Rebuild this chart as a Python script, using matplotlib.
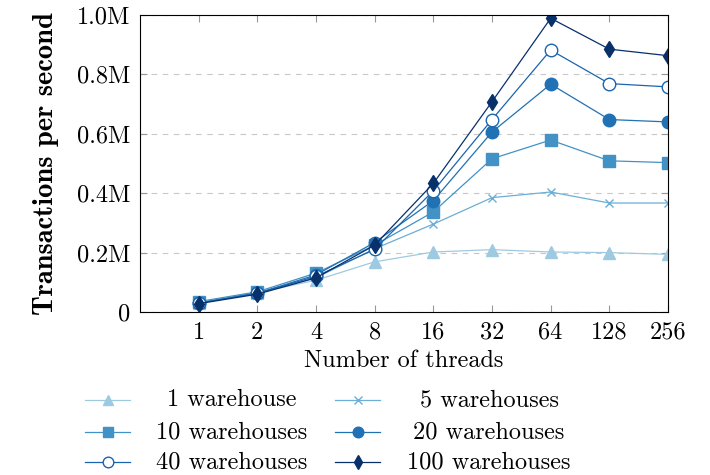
import matplotlib
matplotlib.use('Agg')
import matplotlib.pyplot as plt
from matplotlib.lines import Line2D

plt.rcParams['font.family'] = ['cmr10']
plt.rcParams['axes.formatter.use_mathtext'] = True
plt.rcParams['mathtext.fontset'] = 'cm'

threads = [1, 2, 4, 8, 16, 32, 64, 128, 256]
ytick_labels = ['0', '0.2M', '0.4M', '0.6M', '0.8M', '1.0M']

wh1 = [0.030, 0.065, 0.107, 0.169, 0.202, 0.210, 0.202, 0.200, 0.194]
wh5 = [0.030, 0.065, 0.115, 0.213, 0.296, 0.385, 0.404, 0.367, 0.367]
wh10 = [0.035, 0.068, 0.131, 0.225, 0.337, 0.516, 0.579, 0.509, 0.503]
wh20 = [0.030, 0.063, 0.125, 0.234, 0.375, 0.606, 0.767, 0.648, 0.640]
wh40 = [0.030, 0.063, 0.120, 0.211, 0.408, 0.648, 0.882, 0.769, 0.758]
wh100 = [0.028, 0.060, 0.115, 0.225, 0.433, 0.708, 0.989, 0.885, 0.863]

labels = ['1 warehouse', '5 warehouses', '10 warehouses',
          '20 warehouses', '40 warehouses', '100 warehouses']
series = [wh1, wh5, wh10, wh20, wh40, wh100]
colors = ['#9ecae1', '#6baed6', '#4292c6', '#2171b5', '#1b64ae', '#08306b']
markers = ['^', 'x', 's', 'o', 'o', 'd']
msizes = [8, 6, 9, 9, 9, 8.5]
fills = [True, True, True, True, False, True]

FS = 17.5

fig = plt.figure(figsize=(7.1, 4.75), dpi=100)
ax = fig.add_axes([140/710, 1-312/475, 528/710, 297/475])

xs = list(range(len(threads)))
handles = []
for y, lab, c, m, ms, f in zip(series, labels, colors, markers, msizes, fills):
    h, = ax.plot(xs, [v*1e6 for v in y], color=c, marker=m, markersize=ms,
                 markerfacecolor=c if f else 'white', markeredgecolor=c,
                 markeredgewidth=1.0, linewidth=0.9, label=lab)
    handles.append(h)

ax.set_xlim(-1, 8)
ax.set_ylim(0, 1.0e6)
ax.set_xticks(xs)
ax.set_xticklabels([str(t) for t in threads])
ax.set_yticks([0, 0.2e6, 0.4e6, 0.6e6, 0.8e6, 1.0e6])
ax.set_yticklabels(ytick_labels)
ax.tick_params(direction='in', length=5, width=0.8, color='#999999',
               top=True, right=True, labelsize=FS, pad=7)
ax.yaxis.grid(True, linestyle=(0, (5, 5)), color='#c8c8c8', linewidth=0.8)
ax.set_axisbelow(True)
for s in ax.spines.values():
    s.set_linewidth(0.8)

ax.set_xlabel('Number of threads', fontsize=FS, labelpad=4)
ax.set_ylabel('Transactions per second', fontsize=20.5, fontfamily='cmb10',
              labelpad=13)

# legend drawn by hand so the text is centred in each column
rows = [400, 432, 462]
cols = [(85, 130, 232), (335, 380, 489)]
for i, h in enumerate(handles):
    r = rows[i // 2]
    x0, x1, xt = cols[i % 2]
    yy = 1 - r/475
    fig.add_artist(Line2D([x0/710, x1/710], [yy, yy], color=h.get_color(),
                          linewidth=0.9))
    fig.add_artist(Line2D([(x0+x1)/2/710], [yy], color=h.get_color(),
                          marker=h.get_marker(), markersize=h.get_markersize()*0.85,
                          markerfacecolor=h.get_markerfacecolor(),
                          markeredgecolor=h.get_color(), linestyle='none'))
    fig.text(xt/710, yy, labels[i], ha='center', va='center', fontsize=FS)

fig.savefig('out.png', dpi=100)
